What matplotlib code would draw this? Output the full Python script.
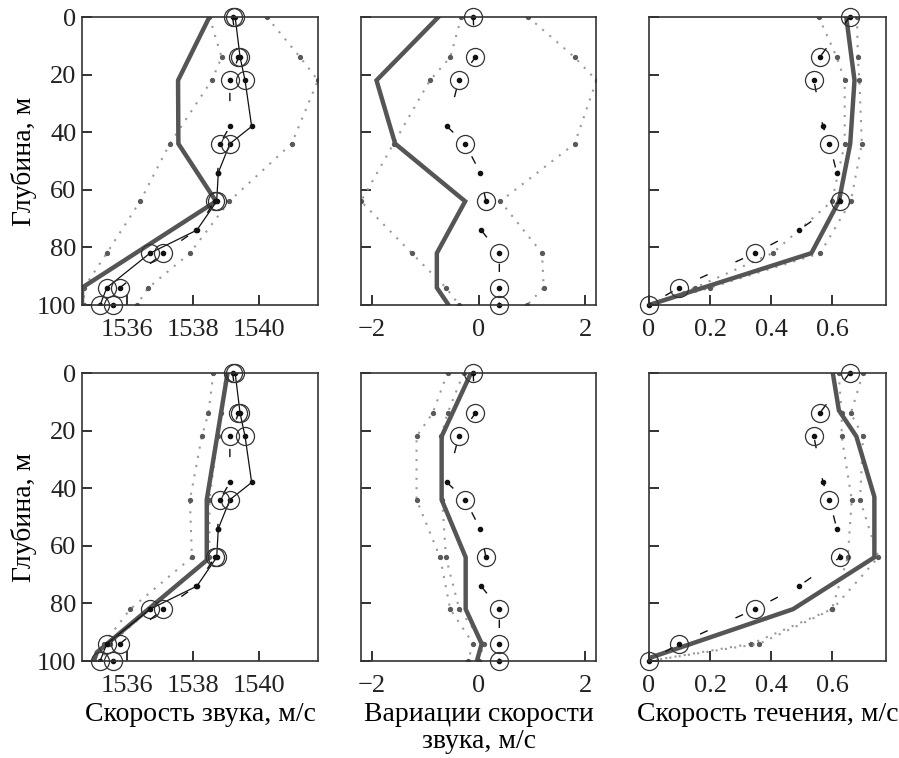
import numpy as np
import matplotlib
matplotlib.use("Agg")
import matplotlib.pyplot as plt

plt.rcParams['font.family'] = ['Liberation Serif', 'DejaVu Serif']

# observed profiles (same in both rows)
depths = [0, 14, 22, 38, 44, 54, 64, 74, 82, 94, 100]
circle_depths = [0, 14, 22, 44, 64, 82, 94, 100]
speed_a = [1539.28, 1539.43, 1539.58, 1539.78, 1539.12, 1538.77, 1538.72, 1538.12, 1536.70, 1535.39, 1535.19]
speed_b = [1539.20, 1539.38, 1539.12, 1539.12, 1538.82, 1538.75, 1538.66, 1538.10, 1537.10, 1535.79, 1535.59]
var_obs = [-0.10, -0.06, -0.37, -0.59, -0.25, 0.03, 0.14, 0.05, 0.39, 0.39, 0.39]
cur_obs = [0.656, 0.558, 0.539, 0.569, 0.590, 0.614, 0.625, 0.490, 0.346, 0.098, 0.0]

# model profiles (thick lines)
top_speed_d = [0, 22, 44, 64, 94, 100]
top_speed = [1538.50, 1537.55, 1537.56, 1538.70, 1534.64, 1534.64]
top_var_d = [0, 22, 44, 64, 82, 94, 100]
top_var = [-0.75, -1.91, -1.56, -0.25, -0.78, -0.78, -0.56]
top_cur_d = [0, 22, 44, 64, 82, 100]
top_cur = [0.645, 0.672, 0.658, 0.621, 0.531, 0.0]

bot_speed_d = [0, 44, 65, 97, 100]
bot_speed = [1539.05, 1538.42, 1538.42, 1535.09, 1535.00]
bot_var_d = [0, 22, 44, 64, 82, 94, 100]
bot_var = [-0.14, -0.69, -0.69, -0.24, -0.24, 0.06, -0.03]
bot_cur_d = [0, 13, 22, 43, 64, 82, 99]
bot_cur = [0.601, 0.621, 0.678, 0.737, 0.737, 0.471, 0.0]

# envelopes (dotted)
env_d = [0, 14, 22, 44, 64, 82, 94, 100]
top_speed_lo = [1538.50, 1538.87, 1538.57, 1537.30, 1536.40, 1535.39, 1534.70, 1534.70]
top_speed_hi = [1540.24, 1541.25, 1541.79, 1540.99, 1539.10, 1537.91, 1536.65, 1536.30]
top_var_lo = [-0.32, -0.53, -0.91, -1.59, -2.20, -1.25, -0.61, -0.36]
top_var_hi = [0.93, 1.80, 2.21, 1.80, 0.41, 1.19, 1.22, 0.91]
top_cur_lo = [0.555, 0.614, 0.640, 0.640, 0.598, 0.404, 0.150, 0.0]
top_cur_hi = [0.680, 0.683, 0.688, 0.696, 0.660, 0.560, 0.200, 0.0]

bot_speed_lo = [1538.62, 1538.47, 1538.27, 1537.91, 1537.97, 1536.10, 1535.30, 1535.00]
bot_speed_hi = [1539.00, 1538.85, 1538.75, 1538.50, 1538.50, 1536.70, 1535.50, 1535.20]
bot_var_lo = [-0.58, -0.86, -1.16, -1.16, -0.72, -0.53, -0.10, -0.20]
bot_var_hi = [-0.28, -0.58, -0.70, -0.68, -0.61, -0.36, 0.10, 0.00]
bot_cur_lo = [0.620, 0.630, 0.630, 0.663, 0.650, 0.598, 0.335, 0.0]
bot_cur_hi = [0.700, 0.660, 0.700, 0.690, 0.750, 0.600, 0.361, 0.0]

xlims = [(1534.64, 1541.79), (-2.2, 2.2), (0, 0.775)]
xticks = [[1536, 1538, 1540], [-2, 0, 2], [0, 0.2, 0.4, 0.6]]
xticklabels = [['1536', '1538', '1540'], ['\u22122', '0', '2'], ['0', '0.2', '0.4', '0.6']]
xlabels = ['Скорость звука, м/с', 'Вариации скорости\nзвука, м/с', 'Скорость течения, м/с']

fig = plt.figure(figsize=(8.99, 7.58), dpi=100)
lefts = [82, 361, 649]
widths = [236, 235, 237]
tops = [17, 373]

rows = [
    [(top_speed_d, top_speed, top_speed_lo, top_speed_hi),
     (top_var_d, top_var, top_var_lo, top_var_hi),
     (top_cur_d, top_cur, top_cur_lo, top_cur_hi)],
    [(bot_speed_d, bot_speed, bot_speed_lo, bot_speed_hi),
     (bot_var_d, bot_var, bot_var_lo, bot_var_hi),
     (bot_cur_d, bot_cur, bot_cur_lo, bot_cur_hi)],
]
obs = [speed_b, var_obs, cur_obs]

def circ(vals):
    return [v for d, v in zip(depths, vals) if d in circle_depths]

for r in range(2):
    for c in range(3):
        ax = fig.add_axes([lefts[c] / 899, 1 - (tops[r] + 288) / 758, widths[c] / 899, 288 / 758])
        md, mv, lo, hi = rows[r][c]
        # envelopes
        for env in (lo, hi):
            ax.plot(env, env_d, ls=(0, (1, 3.5)), color='#9a9a9a', lw=1.5)
            ax.plot(env, env_d, ls='none', marker='o', ms=2.8, color='#5a5a5a')
        # model
        ax.plot(mv, md, color='#555555', lw=3.2, solid_joinstyle='miter')
        # observations
        if c == 0:
            ax.plot(speed_a, depths, color='#111111', lw=0.9, marker='o', ms=3)
            ax.plot(circ(speed_a), circle_depths, ls='none', marker='o', ms=13,
                    mfc='none', mec='#333333', mew=0.9, clip_on=False)
        ov = obs[c]
        ax.plot(ov, depths, color='#111111', lw=1.0, ls=(0, (6, 22)))
        ax.plot(ov, depths, ls='none', marker='o', ms=3, color='#111111', clip_on=False)
        ax.plot(circ(ov), circle_depths, ls='none', marker='o', ms=13,
                mfc='none', mec='#333333', mew=0.9, clip_on=False)

        ax.set_xlim(*xlims[c])
        ax.set_ylim(100, 0)
        ax.set_yticks([0, 20, 40, 60, 80, 100])
        ax.set_xticks(xticks[c])
        ax.set_xticklabels(xticklabels[c])
        ax.tick_params(direction='in', length=7, width=1.3, labelsize=19, colors='#222222')
        ax.tick_params(axis='x', pad=10)
        ax.tick_params(axis='y', pad=4)
        for s in ax.spines.values():
            s.set_linewidth(1.2)
            s.set_color('#333333')
        if c == 0:
            ax.set_ylabel('Глубина, м', fontsize=20, labelpad=0)
        else:
            ax.set_yticklabels([])
        if r == 1:
            ax.set_xlabel(xlabels[c], fontsize=20, labelpad=4, linespacing=1.1)

fig.savefig('out.png', dpi=100)
